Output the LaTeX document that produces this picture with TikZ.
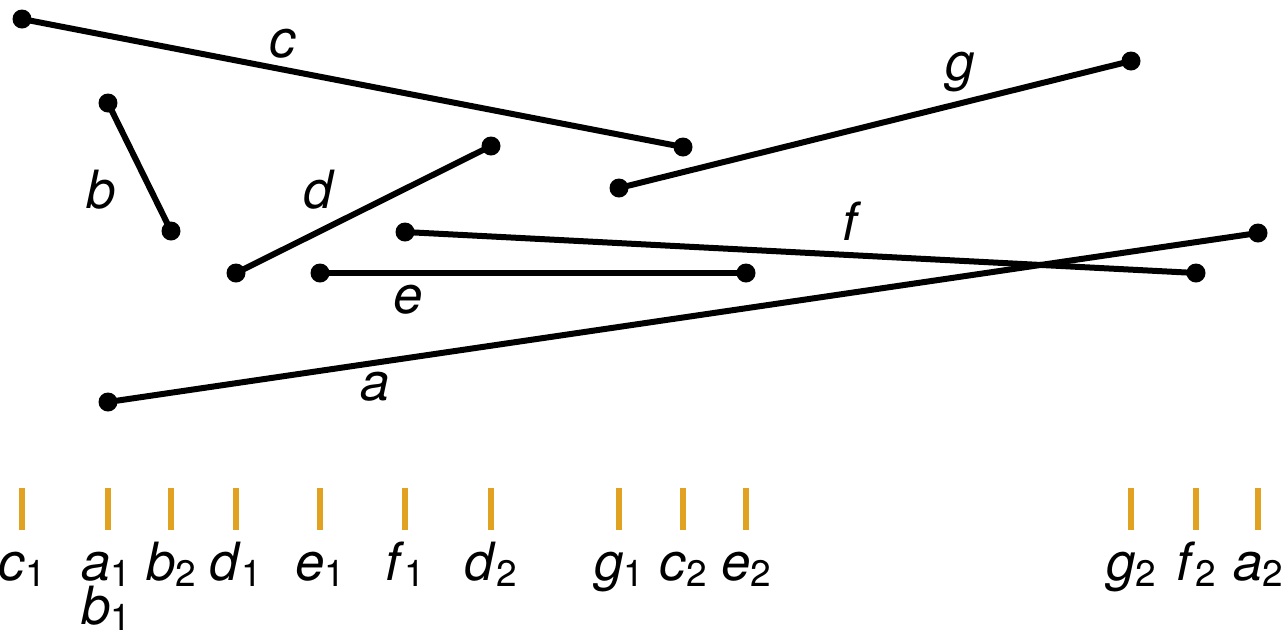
\documentclass[tikz,border=0pt]{standalone}
\usepackage{fontspec}
\setmainfont{TeX Gyre Heros}
\usetikzlibrary{positioning}
\definecolor{tickgold}{HTML}{E0A220}
\newcommand{\ptlab}[2]{\textit{#1}\raisebox{-0.12cm}{\fontsize{21}{21}\selectfont #2}}

\begin{document}
\begin{tikzpicture}[x=0.02cm, y=-0.02cm,
    segline/.style={line width=0.12cm},
    endpt/.style={circle, fill=black, inner sep=0pt, minimum size=0.38cm},
    seglabel/.style={font=\fontsize{30}{36}\selectfont\itshape, anchor=base, inner sep=0pt},
    tickmark/.style={fill=tickgold, inner sep=0pt, minimum width=0.12cm, minimum height=0.84cm},
    ticklabel/.style={font=\fontsize{30}{36}\selectfont, anchor=base, inner sep=0pt}]
  \useasboundingbox (0,0) rectangle (1281,637);

  % segment end points
  \node[endpt] (a1) at (108,402) {};  \node[endpt] (a2) at (1258,233) {};
  \node[endpt] (b1) at (108,103) {};  \node[endpt] (b2) at (171,231) {};
  \node[endpt] (c1) at (22,19) {};    \node[endpt] (c2) at (683,147) {};
  \node[endpt] (d1) at (236,273) {};  \node[endpt] (d2) at (491,146) {};
  \node[endpt] (e1) at (320,273) {};  \node[endpt] (e2) at (746,273) {};
  \node[endpt] (f1) at (405,232) {};  \node[endpt] (f2) at (1196,273) {};
  \node[endpt] (g1) at (619,188) {};  \node[endpt] (g2) at (1131,61) {};

  % segments
  \draw[segline] (a1.center) -- (a2.center);
  \draw[segline] (b1.center) -- (b2.center);
  \draw[segline] (c1.center) -- (c2.center);
  \draw[segline] (d1.center) -- (d2.center);
  \draw[segline] (e1.center) -- (e2.center);
  \draw[segline] (f1.center) -- (f2.center);
  \draw[segline] (g1.center) -- (g2.center);

  \node[seglabel] (la) at (375,400) {a};
  \node[seglabel] (lb) at (101,208) {b};
  \node[seglabel] (lc) at (283,57) {c};
  \node[seglabel] (ld) at (318,208) {d};
  \node[seglabel] (le) at (408,313) {e};
  \node[seglabel] (lf) at (850,240) {f};
  \node[seglabel] (lg) at (960,80) {g};

  % sorted end points on the line
  \node[tickmark] (tc1) at (22,509) {};
  \node[tickmark] (ta1) at (108,509) {};
  \node[tickmark] (tb2) at (171,509) {};
  \node[tickmark] (td1) at (236,509) {};
  \node[tickmark] (te1) at (320,509) {};
  \node[tickmark] (tf1) at (405,509) {};
  \node[tickmark] (td2) at (491,509) {};
  \node[tickmark] (tg1) at (619,509) {};
  \node[tickmark] (tc2) at (683,509) {};
  \node[tickmark] (te2) at (746,509) {};
  \node[tickmark] (tg2) at (1131,509) {};
  \node[tickmark] (tf2) at (1196,509) {};
  \node[tickmark] (ta2) at (1258,509) {};

  \node[ticklabel] (nc1) at (22,580) {\ptlab{c}{1}};
  \node[ticklabel] (na1) at (106,580) {\ptlab{a}{1}};
  \node[ticklabel] (nb1) at (106,624) {\ptlab{b}{1}};
  \node[ticklabel] (nb2) at (171,580) {\ptlab{b}{2}};
  \node[ticklabel] (nd1) at (236,580) {\ptlab{d}{1}};
  \node[ticklabel] (ne1) at (320,580) {\ptlab{e}{1}};
  \node[ticklabel] (nf1) at (405,580) {\ptlab{f}{1}};
  \node[ticklabel] (nd2) at (491,580) {\ptlab{d}{2}};
  \node[ticklabel] (ng1) at (619,580) {\ptlab{g}{1}};
  \node[ticklabel] (nc2) at (683,580) {\ptlab{c}{2}};
  \node[ticklabel] (ne2) at (746,580) {\ptlab{e}{2}};
  \node[ticklabel] (ng2) at (1131,580) {\ptlab{g}{2}};
  \node[ticklabel] (nf2) at (1196,580) {\ptlab{f}{2}};
  \node[ticklabel] (na2) at (1258,580) {\ptlab{a}{2}};
\end{tikzpicture}
\end{document}
